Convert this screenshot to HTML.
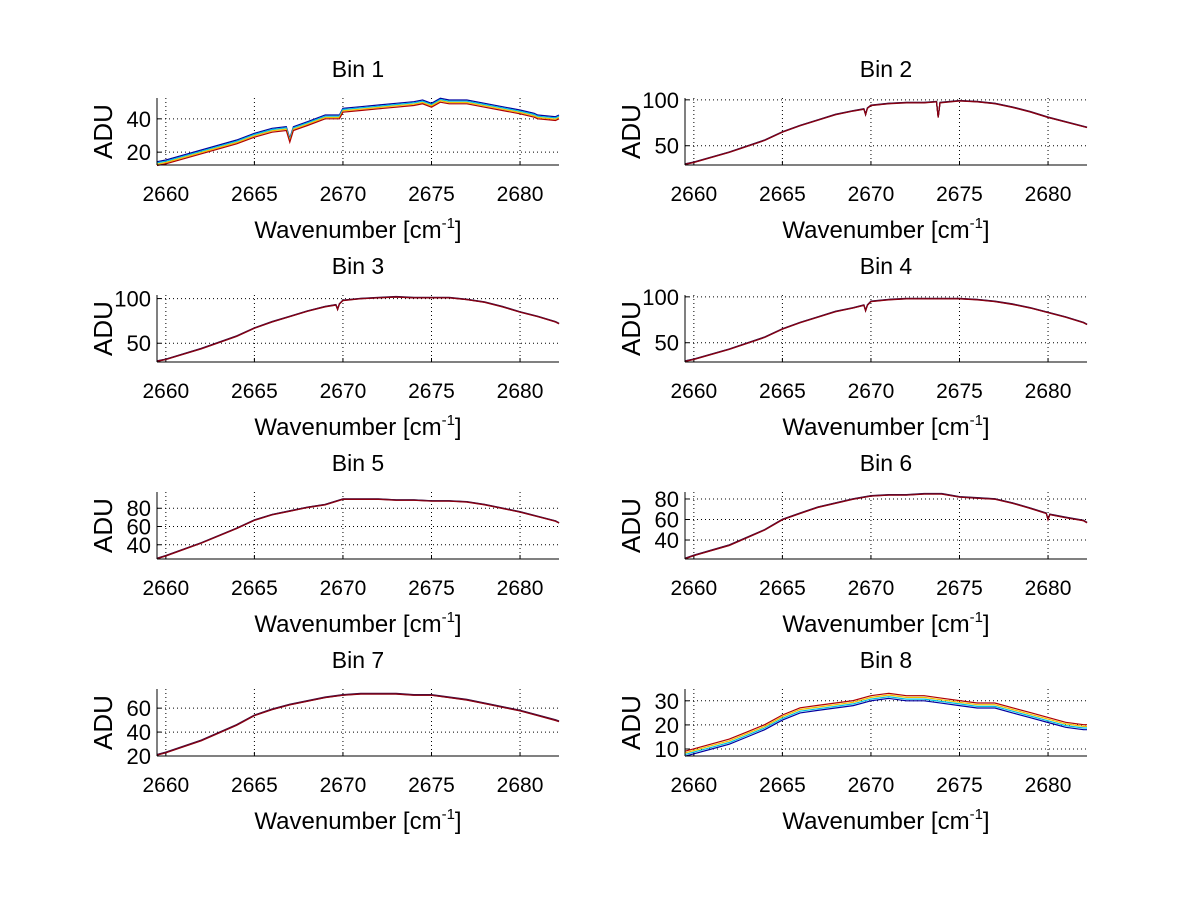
<!DOCTYPE html>
<html><head><meta charset="utf-8"><style>
body{margin:0;background:#fff;}
svg text{font-family:"Liberation Sans",sans-serif;fill:#000;}
</style></head><body>
<svg id="fig" width="1200" height="901" viewBox="0 0 1200 901" xmlns="http://www.w3.org/2000/svg">
<rect width="1200" height="901" fill="#fff"/>
</svg>
<script>
// Shared x-axis data
const xTicks = [2660, 2665, 2670, 2675, 2680];
const xRange = [2659.5, 2682.2];
// Per-bin wavenumber samples and ADU values
const bin1X = [2659.5,2660,2661,2662,2663,2664,2665,2666,2666.8,2667,2667.2,2668,2669,2669.8,2670,2671,2672,2673,2674,2674.5,2675,2675.5,2676,2677,2678,2679,2680,2680.8,2681,2682,2682.2];
const bin1Y = [13,14,17,20,23,26,30,33,34,27,34,37,41,41,45,46,47,48,49,50,48,51,50,50,48,46,44,42,41,40,41];
const bin2X = [2659.5,2660,2662,2664,2665,2666,2667,2668,2669,2669.6,2669.7,2669.8,2670,2671,2672,2673,2673.7,2673.8,2673.9,2675,2676,2677,2678,2679,2680,2681,2682,2682.2];
const bin2Y = [30,32,43,56,65,72,78,84,88,90,84,91,94,96,97,97,98,81,97,99,98,96,92,87,81,76,71,70];
const bin3X = [2659.5,2660,2662,2664,2665,2666,2667,2668,2669,2669.6,2669.7,2669.8,2670,2671,2672,2673,2674,2675,2676,2677,2678,2679,2680,2681,2682,2682.2];
const bin3Y = [30,32,44,58,67,74,80,86,91,93,88,94,98,100,101,102,101,101,101,99,96,91,85,80,74,72];
const bin4X = [2659.5,2660,2662,2664,2665,2666,2667,2668,2669,2669.6,2669.7,2669.8,2670,2671,2672,2673,2674,2675,2676,2677,2678,2679,2680,2681,2682,2682.2];
const bin4Y = [30,32,43,56,65,72,78,84,88,91,85,91,95,97,98,98,98,98,97,95,92,88,83,78,72,70];
const bin5X = [2659.5,2660,2662,2664,2665,2666,2667,2668,2669,2670,2671,2672,2673,2674,2675,2676,2677,2678,2679,2680,2681,2682,2682.2];
const bin5Y = [25,28,42,58,67,73,77,81,84,90,90,90,89,89,88,88,87,84,80,76,71,66,64];
const bin6X = [2659.5,2660,2662,2664,2665,2666,2667,2668,2669,2670,2671,2672,2673,2674,2675,2676,2677,2678,2679,2679.9,2680,2680.1,2681,2682,2682.2];
const bin6Y = [22,25,35,50,60,66,72,76,80,83,84,84,85,85,82,81,80,76,71,66,60,65,62,59,57];
const bin7X = [2659.5,2660,2662,2664,2665,2666,2667,2668,2669,2670,2671,2672,2673,2674,2675,2676,2677,2678,2679,2680,2681,2682,2682.2];
const bin7Y = [21,23,33,46,54,59,63,66,69,71,72,72,72,71,71,69,67,64,61,58,54,50,49];
const bin8X = [2659.5,2660,2661,2662,2663,2664,2665,2666,2667,2668,2669,2670,2671,2672,2673,2674,2675,2676,2677,2678,2679,2680,2681,2682,2682.2];
const bin8Y = [8,9,11,13,16,19,23,26,27,28,29,31,32,31,31,30,29,28,28,26,24,22,20,19,19];
// Per-bin y limits and y ticks
const bin1YLim=[12.3,52.5], bin1YTicks=[20,40];
const bin2YLim=[29,102], bin2YTicks=[50,100];
const bin3YLim=[29,104], bin3YTicks=[50,100];
const bin4YLim=[29,102], bin4YTicks=[50,100];
const bin5YLim=[24.4,97.8], bin5YTicks=[40,60,80];
const bin6YLim=[21.5,86.8], bin6YTicks=[40,60,80];
const bin7YLim=[20,76], bin7YTicks=[20,40,60];
const bin8YLim=[7.1,34.9], bin8YTicks=[10,20,30];
// Series colour spread offsets (ADU) per bin
const bin1Offsets=[1.3,0.6,-0.2,-1.0], bin8Offsets=[-1.0,-0.3,0.4,1.1];
const smallOffsets=[0.3,0.1,-0.1,-0.3];
const seriesColors=['#0000a0','#00c0e0','#f0c000','#b00000'];

const bins=[
 {x:bin1X,y:bin1Y,lim:bin1YLim,t:bin1YTicks,o:bin1Offsets},
 {x:bin2X,y:bin2Y,lim:bin2YLim,t:bin2YTicks,o:smallOffsets},
 {x:bin3X,y:bin3Y,lim:bin3YLim,t:bin3YTicks,o:smallOffsets},
 {x:bin4X,y:bin4Y,lim:bin4YLim,t:bin4YTicks,o:smallOffsets},
 {x:bin5X,y:bin5Y,lim:bin5YLim,t:bin5YTicks,o:smallOffsets},
 {x:bin6X,y:bin6Y,lim:bin6YLim,t:bin6YTicks,o:smallOffsets},
 {x:bin7X,y:bin7Y,lim:bin7YLim,t:bin7YTicks,o:smallOffsets},
 {x:bin8X,y:bin8Y,lim:bin8YLim,t:bin8YTicks,o:bin8Offsets}
];
const NS='http://www.w3.org/2000/svg';
const svg=document.getElementById('fig');
function mk(tag,attrs,parent){const e=document.createElementNS(NS,tag);for(const k in attrs)e.setAttribute(k,attrs[k]);(parent||svg).appendChild(e);return e;}
bins.forEach((b,i)=>{
 const col=i%2,row=Math.floor(i/2);
 const L=col?685:157,R=col?1087:559,T=98+row*197,B=165+row*197;
 const g=mk('g',{});
 
 
 const sx=v=>L+(v-xRange[0])/(xRange[1]-xRange[0])*(R-L);
 const sy=v=>B-(v-b.lim[0])/(b.lim[1]-b.lim[0])*(B-T);
 xTicks.forEach(t=>{
  const l=mk('line',{x1:sx(t),x2:sx(t),y1:T,y2:B,stroke:'#000','stroke-width':1,'stroke-dasharray':'1,3'},g);
  
  
  mk('line',{x1:sx(t),x2:sx(t),y1:B,y2:B-4,stroke:'#000'},g);
  const tx=mk('text',{x:sx(t),y:B+36,'text-anchor':'middle','font-size':21},g);
  tx.textContent=t;
  
  
 });
 b.t.forEach(t=>{
  const l=mk('line',{x1:L,x2:R,y1:sy(t),y2:sy(t),stroke:'#000','stroke-width':1,'stroke-dasharray':'1,3'},g);
  
  
  mk('line',{x1:L,x2:L+4,y1:sy(t),y2:sy(t),stroke:'#000'},g);
  const tx=mk('text',{x:L-6,y:sy(t)+8,'text-anchor':'end','font-size':22},g);
  tx.textContent=t;
  
  
 });
 b.o.forEach((off,k)=>{
  const d=b.x.map((xv,j)=>(j?'L':'M')+sx(xv).toFixed(1)+','+sy(b.y[j]+off).toFixed(1)).join('');
  const color=(b.o===smallOffsets)?(k===3?'#8a0010':'#401040'):seriesColors[k];
  const p=mk('path',{d:d,fill:'none',stroke:color,'stroke-width':1.2},g);
  
  
 });
 mk('line',{x1:L,x2:R,y1:B,y2:B,stroke:'#000','stroke-width':1},g);
 mk('line',{x1:L,x2:L,y1:T,y2:B,stroke:'#000','stroke-width':1},g);
 const ti=mk('text',{x:(L+R)/2,y:T-21,'text-anchor':'middle','font-size':23},g);
 ti.textContent='Bin '+(i+1);
 
 
 const yl=mk('text',{x:0,y:0,'text-anchor':'middle','font-size':26,transform:'translate('+(L-45)+','+((T+B)/2)+') rotate(-90)'},g);
 yl.textContent='ADU';
 
 
 const xl=mk('text',{x:(L+R)/2,y:B+73,'text-anchor':'middle','font-size':24},g);
 xl.innerHTML='Wavenumber [cm<tspan dy="-10" font-size="15">-1</tspan><tspan dy="10">]</tspan>';
 
 
});
</script>
</body></html>
